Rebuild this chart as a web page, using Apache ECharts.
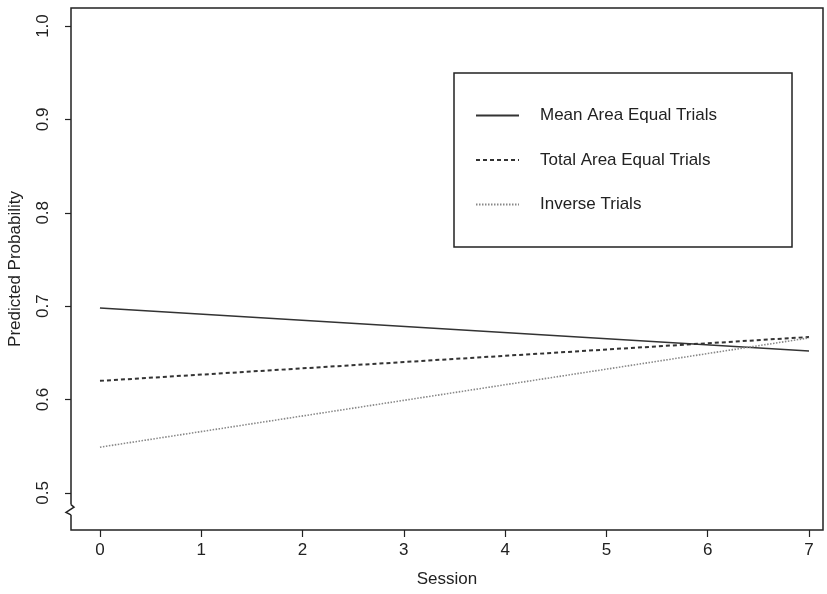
<!DOCTYPE html>
<html>
<head>
<meta charset="utf-8">
<script src="https://cdn.jsdelivr.net/npm/echarts@6/dist/echarts.min.js"></script>
<style>
  html, body { margin: 0; padding: 0; background: #fff; }
  #chart { width: 827px; height: 594px; }
</style>
</head>
<body>
<div id="chart"></div>
<script>
// sessions and predicted probabilities
var sessions = [0, 7];
var meanArea = [0.698, 0.652];
var totalArea = [0.620, 0.667];
var inverse = [0.549, 0.666];

var xTicks = [0, 1, 2, 3, 4, 5, 6, 7];
var yTicks = [0.5, 0.6, 0.7, 0.8, 0.9, 1.0];

var seriesNames = ['Mean Area Equal Trials', 'Total Area Equal Trials', 'Inverse Trials'];

var font = '"Liberation Sans", Arial, sans-serif';
var ink = '#222';
var fs = 17;

function pairs(ys) {
  return sessions.map(function (s, i) { return [s, ys[i]]; });
}

var chart = echarts.init(document.getElementById('chart'));

chart.setOption({
  animation: false,
  backgroundColor: '#fff',
  grid: {
    left: 71, right: 4, top: 8, bottom: 64,
    outerBoundsMode: 'none', containLabel: false,
    show: true, borderColor: ink, borderWidth: 1.5, backgroundColor: 'transparent'
  },
  xAxis: {
    type: 'value',
    min: -0.286, max: 7.138,
    name: 'Session', nameLocation: 'middle', nameGap: 41,
    nameTextStyle: { fontFamily: font, fontSize: fs, color: ink },
    axisLine: { show: false, onZero: false },
    splitLine: { show: false },
    axisTick: { show: true, customValues: xTicks, length: 7, lineStyle: { color: ink, width: 1.2 } },
    axisLabel: { customValues: xTicks, margin: 12, fontFamily: font, fontSize: fs, color: ink }
  },
  yAxis: {
    type: 'value',
    min: 0.4603, max: 1.0193,
    name: 'Predicted Probability', nameLocation: 'middle', nameGap: 47, nameRotate: 90,
    nameTextStyle: { fontFamily: font, fontSize: fs, color: ink },
    axisLine: { show: false, onZero: false },
    splitLine: { show: false },
    axisTick: { show: true, customValues: yTicks, length: 6, lineStyle: { color: ink, width: 1.2 } },
    axisLabel: {
      customValues: yTicks, margin: 19, rotate: 90, fontFamily: font, fontSize: fs, color: ink,
      formatter: function (v) { return v.toFixed(1); }
    }
  },
  legend: {
    orient: 'vertical',
    left: 454, top: 73,
    padding: [34, 75, 34, 21],
    itemGap: 27.5,
    itemWidth: 43, itemHeight: 17,
    borderColor: ink, borderWidth: 1.5,
    itemStyle: { opacity: 0 },
    textStyle: { fontFamily: font, fontSize: fs, color: ink, padding: [0, 0, 0, 16] },
    data: seriesNames
  },
  series: [
    {
      name: seriesNames[0], type: 'line', data: pairs(meanArea), symbol: 'none',
      lineStyle: { color: '#333', width: 1.6, type: 'solid' }, itemStyle: { color: '#333' }
    },
    {
      name: seriesNames[1], type: 'line', data: pairs(totalArea), symbol: 'none',
      lineStyle: { color: '#333', width: 2, type: [4, 3] }, itemStyle: { color: '#333' }
    },
    {
      name: seriesNames[2], type: 'line', data: pairs(inverse), symbol: 'none',
      lineStyle: { color: '#888', width: 1.6, type: [1.5, 1.5] }, itemStyle: { color: '#888' }
    }
  ]
});

// axis break zigzag on the left edge, below the 0.5 tick
var p1 = chart.convertToPixel({ gridIndex: 0 }, [-0.286, 0.4875]);
var p2 = chart.convertToPixel({ gridIndex: 0 }, [-0.286, 0.4765]);
var x0 = p1[0], ya = p1[1], yb = p2[1];
var h = (yb - ya);
chart.setOption({
  graphic: [
    {
      type: 'rect', shape: { x: x0 - 2, y: ya, width: 4, height: h }, style: { fill: '#fff' }, z: 100
    },
    {
      type: 'polyline', z: 101,
      shape: { points: [[x0, ya], [x0 + 3, ya + h * 0.25], [x0 - 5, ya + h * 0.75], [x0, yb]] },
      style: { stroke: ink, lineWidth: 1.5, fill: 'none' }
    }
  ]
});
</script>
</body>
</html>
